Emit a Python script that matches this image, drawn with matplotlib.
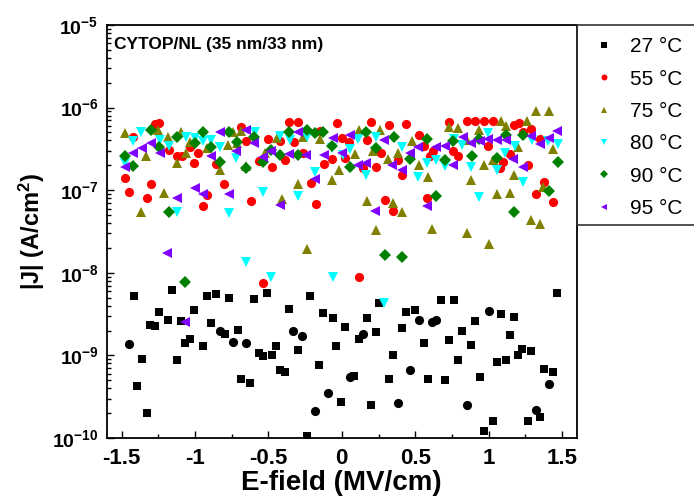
import matplotlib
matplotlib.use("Agg")
import matplotlib.pyplot as plt
from matplotlib.patches import Rectangle
from matplotlib.ticker import FixedLocator, LogLocator, NullFormatter, FuncFormatter
import numpy as np

plt.rcParams["font.family"] = ["Liberation Sans", "DejaVu Sans"]
plt.rcParams["mathtext.fontset"] = "custom"
plt.rcParams["mathtext.rm"] = "Liberation Sans:bold"
plt.rcParams["mathtext.bf"] = "Liberation Sans:bold"
plt.rcParams["mathtext.it"] = "Liberation Sans:bold"

# E-field (MV/cm) and log10(|J| in A/cm^2) for each temperature
x_27 = [-1.418, -1.393, -1.361, -1.329, -1.304, -1.27, -1.243, -1.181, -1.154, -1.125,
        -1.095, -1.068, -1.034, -1.007, -0.945, -0.92, -0.888, -0.859, -0.798, -0.77,
        -0.709, -0.684, -0.625, -0.598, -0.566, -0.536, -0.507, -0.475, -0.445, -0.42,
        -0.386, -0.359, -0.30, -0.239, -0.214, -0.152, -0.125, -0.063, -0.041, -0.008,
        0.023, 0.082, 0.114, 0.173, 0.2, 0.234, 0.252, 0.323, 0.348, 0.409,
        0.436, 0.498, 0.557, 0.584, 0.673, 0.704, 0.731, 0.761, 0.793, 0.82,
        0.882, 0.907, 0.943, 0.968, 1.03, 1.057, 1.086, 1.118, 1.143, 1.172,
        1.202, 1.229, 1.266, 1.29, 1.352, 1.379, 1.44, 1.466]
logj_27 = [-8.285, -9.37, -9.047, -9.69, -8.63, -8.64, -8.47, -8.57, -8.21, -9.06,
           -8.58, -8.85, -8.80, -8.45, -8.88, -8.28, -8.61, -8.25, -8.74, -8.30,
           -8.69, -9.29, -9.33, -8.32, -8.97, -9.01, -8.24, -8.99, -8.89, -9.17,
           -9.20, -8.44, -8.93, -9.98, -8.285, -9.11, -8.49, -8.55, -8.88, -9.56,
           -8.66, -9.25, -8.80, -8.55, -9.60, -8.72, -8.37, -9.28, -9.0, -8.67,
           -8.47, -8.45, -8.85, -9.28, -8.33, -9.30, -8.81, -8.33, -9.06, -8.70,
           -8.87, -8.58, -9.26, -9.91, -9.79, -9.08, -8.50, -9.05, -8.75, -8.535,
           -9.0, -8.92, -9.79, -8.94, -9.75, -9.16, -9.20, -8.24]

# 27 C points recorded with round markers
x_27b = [-1.45, -0.83, -0.738, -0.654, -0.33, -0.268, -0.18, -0.095, 0.055, 0.143,
         0.38, 0.464, 0.525, 0.611, 0.643, 0.85, 1.0, 1.322, 1.409]
logj_27b = [-8.866, -8.70, -8.84, -8.85, -8.70, -8.76, -9.67, -9.46, -9.26, -8.745,
            -9.58, -9.18, -8.57, -8.60, -8.57, -9.60, -8.46, -9.66, -9.35]

x_55 = [-1.477, -1.447, -1.42, -1.329, -1.302, -1.27, -1.243, -1.18, -1.12, -1.09,
        -1.036, -1.004, -0.977, -0.945, -0.916, -0.859, -0.80, -0.684, -0.65, -0.62,
        -0.566, -0.536, -0.505, -0.475, -0.418, -0.384, -0.359, -0.327, -0.30, -0.264,
        -0.209, -0.177, -0.15, -0.12, -0.068, -0.034, -0.002, 0.025, 0.052, 0.116,
        0.145, 0.17, 0.2, 0.232, 0.266, 0.291, 0.323, 0.35, 0.384, 0.409,
        0.438, 0.527, 0.561, 0.582, 0.60, 0.622, 0.731, 0.759, 0.791, 0.85,
        0.905, 0.966, 0.995, 1.027, 1.077, 1.10, 1.148, 1.175, 1.204, 1.232,
        1.268, 1.29, 1.322, 1.352, 1.379, 1.44]
logj_55 = [-6.856, -7.02, -6.36, -7.10, -6.93, -6.20, -6.19, -6.51, -6.59, -6.59,
           -6.48, -6.67, -6.55, -7.19, -7.06, -6.68, -6.925, -6.23, -6.41, -7.13,
           -6.65, -8.12, -6.38, -6.715, -6.41, -6.64, -6.17, -6.42, -6.17, -6.55,
           -6.91, -7.17, -6.28, -6.68, -6.62, -6.19, -6.37, -6.61, -6.42, -8.055,
           -6.735, -6.39, -6.17, -6.715, -6.55, -7.12, -6.21, -7.25, -6.63, -6.81,
           -6.20, -6.335, -6.47, -7.10, -6.59, -6.52, -6.17, -6.53, -6.59, -6.16,
           -6.16, -6.16, -6.46, -6.16, -6.73, -6.655, -6.565, -6.21, -6.19, -6.29,
           -6.70, -6.26, -7.05, -6.38, -6.905, -7.14]

x_75 = [-1.479, -1.365, -1.331, -1.252, -1.213, -1.181, -1.123, -1.093, -1.063, -1.036,
        -0.918, -0.832, -0.775, -0.74, -0.716, -0.684, -0.65, -0.523, -0.441, -0.404,
        -0.298, -0.264, -0.239, -0.15, -0.066, -0.018, 0.089, 0.118, 0.175, 0.214,
        0.232, 0.259, 0.318, 0.348, 0.38, 0.407, 0.475, 0.527, 0.584, 0.613,
        0.731, 0.791, 0.85, 0.85, 0.879, 0.936, 0.968, 1.0, 1.027, 1.054,
        1.084, 1.116, 1.145, 1.172, 1.202, 1.264, 1.29, 1.322, 1.352, 1.372,
        1.409, 1.44]
logj_75 = [-6.31, -7.26, -6.59, -6.27, -7.03, -6.36, -6.67, -6.29, -6.545, -6.42,
           -6.49, -6.755, -6.45, -6.30, -6.43, -6.28, -6.71, -6.55, -6.37, -7.11,
           -6.92, -6.35, -7.71, -6.38, -6.88, -6.755, -6.56, -6.27, -7.13, -6.53,
           -7.48, -6.27, -6.62, -7.16, -6.55, -7.26, -6.40, -6.70, -6.84, -7.47,
           -6.24, -6.25, -6.39, -7.52, -6.88, -6.27, -6.70, -7.655, -6.64, -7.05,
           -6.16, -6.22, -7.03, -6.82, -6.48, -6.16, -7.36, -6.04, -7.41, -6.96,
           -6.04, -6.505]

x_80 = [-1.479, -1.42, -1.365, -1.24, -1.18, -1.123, -1.059, -1.002, -0.945, -0.888,
        -0.827, -0.77, -0.718, -0.65, -0.593, -0.536, -0.479, -0.418, -0.354, -0.30,
        -0.236, -0.18, -0.066, -0.063, 0.005, 0.055, 0.111, 0.168, 0.236, 0.288,
        0.407, 0.52, 0.577, 0.641, 0.702, 0.763, 0.82, 0.879, 0.936, 0.998,
        1.054, 1.111, 1.179, 1.232, 1.293, 1.406, 1.47]
logj_80 = [-6.67, -6.40, -6.30, -6.39, -6.47, -7.26, -6.36, -6.37, -6.41, -6.39,
           -6.48, -7.28, -6.61, -7.865, -6.30, -7.02, -8.05, -6.34, -6.39, -7.07,
           -6.35, -6.78, -6.49, -8.05, -6.57, -6.505, -6.38, -6.82, -6.36, -8.37,
           -6.48, -6.84, -6.67, -6.63, -6.71, -6.38, -6.45, -6.715, -7.08, -6.31,
           -6.755, -6.55, -6.46, -6.90, -6.39, -6.41, -6.44]

x_90 = [-1.479, -1.42, -1.302, -1.245, -1.18, -1.123, -1.066, -1.002, -0.945, -0.888,
        -0.832, -0.768, -0.711, -0.654, -0.598, -0.536, -0.479, -0.418, -0.359, -0.298,
        -0.236, -0.18, -0.127, -0.066, 0.055, 0.168, 0.236, 0.291, 0.354, 0.409,
        0.464, 0.582, 0.641, 0.702, 0.759, 0.884, 0.936, 1.054, 1.116, 1.175,
        1.232, 1.411, 1.47]
logj_90 = [-6.59, -6.71, -6.27, -6.48, -7.26, -6.36, -8.115, -6.43, -6.29, -6.48,
           -6.655, -6.30, -6.42, -6.735, -6.35, -6.655, -6.51, -6.57, -6.30, -6.57,
           -6.27, -6.31, -6.29, -6.465, -6.715, -6.30, -6.49, -7.78, -6.35, -7.81,
           -6.62, -6.38, -7.07, -6.63, -6.40, -6.59, -6.38, -6.61, -6.33, -7.26,
           -6.335, -7.01, -6.655]

x_95 = [-1.479, -1.42, -1.361, -1.297, -1.24, -1.19, -1.123, -1.066, -1.002, -0.945,
        -0.888, -0.832, -0.77, -0.718, -0.654, -0.598, -0.536, -0.479, -0.418, -0.359,
        -0.298, -0.245, -0.18, -0.123, -0.063, -0.002, 0.055, 0.111, 0.168, 0.225,
        0.286, 0.345, 0.407, 0.464, 0.52, 0.582, 0.645, 0.702, 0.759, 0.823,
        0.879, 0.941, 0.997, 1.054, 1.118, 1.168, 1.232, 1.288, 1.35, 1.413,
        1.468]
logj_95 = [-6.72, -6.55, -6.49, -6.43, -6.55, -7.76, -7.09, -8.59, -6.97, -7.05,
           -6.59, -6.30, -7.045, -6.53, -6.27, -6.43, -6.60, -6.52, -7.18, -6.56,
           -6.29, -6.57, -6.87, -6.57, -6.37, -6.55, -6.33, -6.69, -6.675, -7.25,
           -6.39, -6.69, -6.755, -6.55, -6.48, -7.19, -6.48, -6.465, -6.69, -6.36,
           -6.43, -6.40, -6.38, -6.39, -6.39, -6.62, -6.715, -6.34, -6.44, -6.37,
           -6.28]

SERIES = [
    (x_27, logj_27, "s", "black", 5.8, "27 \u00b0C"),
    (x_27b, logj_27b, "o", "black", 6.6, None),
    (x_55, logj_55, "o", "#ff0000", 6.6, "55 \u00b0C"),
    (x_75, logj_75, "^", "#808000", 7.6, "75 \u00b0C"),
    (x_80, logj_80, "v", "#00ffff", 7.6, "80 \u00b0C"),
    (x_90, logj_90, "D", "#008000", 5.8, "90 \u00b0C"),
    (x_95, logj_95, "<", "#8000ff", 7.6, "95 \u00b0C"),
]

fig = plt.figure(figsize=(6.94, 4.99), dpi=100)
ax = fig.add_axes([0.154, 0.122, 0.677, 0.828])

handles, labels = [], []
for xs, lj, mk, col, ms, lab in SERIES:
    h, = ax.plot(xs, 10.0 ** np.array(lj), linestyle="none", marker=mk, color=col,
                 markersize=ms, markeredgewidth=0)
    if lab:
        handles.append(h)
        labels.append(lab)

ax.set_yscale("log")
ax.set_xlim(-1.6, 1.6)
ax.set_ylim(1e-10, 1e-5)

ax.xaxis.set_major_locator(FixedLocator([-1.5, -1, -0.5, 0, 0.5, 1, 1.5]))
ax.xaxis.set_minor_locator(FixedLocator([-1.25, -0.75, -0.25, 0.25, 0.75, 1.25]))
ax.xaxis.set_major_formatter(FuncFormatter(lambda v, p: f"{v:g}"))
ax.yaxis.set_major_locator(LogLocator(base=10, numticks=10))
ax.yaxis.set_minor_locator(LogLocator(base=10, subs=np.arange(2, 10), numticks=20))
ax.yaxis.set_minor_formatter(NullFormatter())
ax.yaxis.set_major_formatter(FuncFormatter(lambda v, p: f"$10^{{{int(round(np.log10(v)))}}}$"))

ax.tick_params(which="both", direction="in", top=False, right=False, width=1.0)
ax.tick_params(which="major", length=5)
ax.tick_params(which="minor", length=3)
ax.tick_params(axis="x", which="major", labelsize=16, pad=7)
ax.tick_params(axis="y", which="major", labelsize=14, pad=6)
for t in ax.get_xticklabels():
    t.set_fontweight("bold")
for sp in ax.spines.values():
    sp.set_linewidth(1.3)

ax.set_xlabel("E-field (MV/cm)", fontsize=20, fontweight="bold", labelpad=0.5)
ax.set_ylabel("|J| (A/cm$^2$)", fontsize=17, fontweight="bold", labelpad=4)

ax.text(0.015, 0.972, "CYTOP/NL (35 nm/33 nm)", transform=ax.transAxes,
        fontsize=12.5, fontweight="bold", va="top", ha="left")

# legend box sits against the right spine and runs off the figure edge
fig.patches.append(Rectangle((577 / 694, (499 - 225) / 499), 0.3, 200 / 499,
                             transform=fig.transFigure, fill=False,
                             edgecolor="#333333", linewidth=1.2, clip_on=False))
fig.legend(handles, labels, loc="upper left", bbox_to_anchor=(585 / 694, (499 - 29) / 499),
           frameon=False, fontsize=15, markerscale=0.65, handlelength=1.0,
           handletextpad=0.75, labelspacing=0.64, borderaxespad=0)

fig.savefig("out.png", dpi=100)
